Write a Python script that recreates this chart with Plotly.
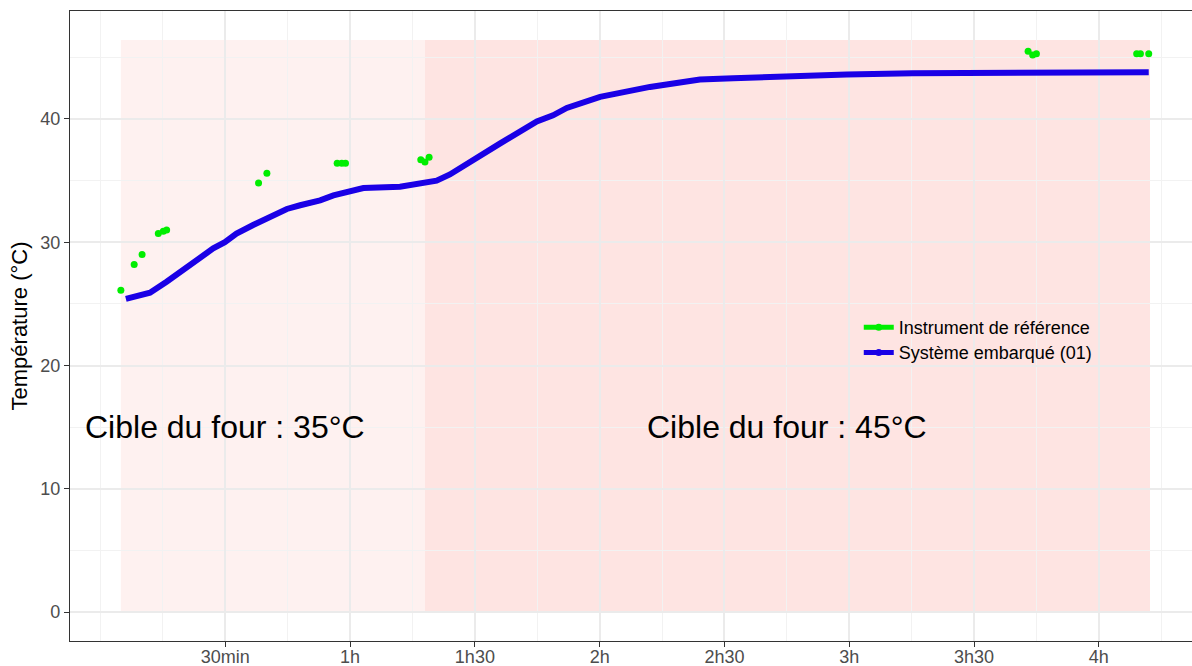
import plotly.graph_objects as go

# Elapsed time in minutes, temperature in °C
ref_time = [4.9, 8.1, 10.0, 13.9, 15.1, 15.9, 38.0, 40.0, 56.9, 58.0, 58.9,
            77.0, 78.0, 79.0, 223.0, 224.1, 225.0, 249.1, 250.0, 252.0]
ref_temp = [26.1, 28.2, 29.0, 30.7, 30.9, 31.0, 34.8, 35.6, 36.4, 36.4, 36.4,
            36.7, 36.5, 36.9, 45.5, 45.2, 45.3, 45.3, 45.3, 45.3]

sys_time = [6.1, 11.9, 15.9, 20.7, 27.1, 29.9, 32.7, 36.7, 41.5, 44.8, 48.0,
            52.8, 56.0, 60.0, 63.2, 72.0, 76.8, 80.8, 84.0, 89.6, 96.0, 104.9,
            108.8, 112.1, 120.1, 132.1, 144.1, 152.1, 160.1, 168.1, 179.4,
            195.3, 211.4, 227.5, 243.4, 252.0]
sys_temp = [25.4, 25.9, 26.8, 28.0, 29.5, 30.0, 30.7, 31.4, 32.1, 32.7, 33.0,
            33.4, 33.8, 34.2, 34.4, 34.5, 34.8, 35.0, 35.5, 36.7, 38.0, 39.8,
            40.3, 40.9, 41.8, 42.6, 43.2, 43.3, 43.4, 43.5, 43.6,
            43.7, 43.7, 43.8, 43.8, 43.8]

# Oven set-point phases: start, end (minutes), label
phase_start = [4.9, 78.0]
phase_end = [78.0, 252.3]
phase_label = ["Cible du four : 35°C", "Cible du four : 45°C"]
phase_label_x = [30.0, 165.0]
phase_fill = ["rgba(248,118,109,0.10)", "rgba(248,118,109,0.20)"]
phase_top = 46.4

tick_vals = [30, 60, 90, 120, 150, 180, 210, 240]
tick_text = ["30min", "1h", "1h30", "2h", "2h30", "3h", "3h30", "4h"]

GREEN = "#00ee00"
BLUE = "#1a00e6"
FONT = "Liberation Sans, Arial, sans-serif"

fig = go.Figure()

fig.add_trace(go.Scatter(x=sys_time, y=sys_temp, mode="lines",
                         line=dict(color=BLUE, width=6),
                         showlegend=False, hoverinfo="x+y"))
fig.add_trace(go.Scatter(x=ref_time, y=ref_temp, mode="markers",
                         marker=dict(color=GREEN, size=7),
                         showlegend=False, hoverinfo="x+y"))

# Legend entries (line + point key), one legend box per row
fig.add_trace(go.Scatter(x=[None], y=[None], mode="lines+markers",
                         name="Instrument de référence", legend="legend",
                         line=dict(color=GREEN, width=5),
                         marker=dict(color=GREEN, size=7)))
fig.add_trace(go.Scatter(x=[None], y=[None], mode="lines+markers",
                         name="Système embarqué (01)", legend="legend2",
                         line=dict(color=BLUE, width=5),
                         marker=dict(color=BLUE, size=7)))

for x0, x1, fc in zip(phase_start, phase_end, phase_fill):
    fig.add_shape(type="rect", x0=x0, x1=x1, y0=0, y1=phase_top,
                  xref="x", yref="y", fillcolor=fc, line=dict(width=0),
                  layer="below")

for lx, lab in zip(phase_label_x, phase_label):
    fig.add_annotation(x=lx, y=15, xref="x", yref="y", text=lab,
                       showarrow=False, xanchor="center", yanchor="middle",
                       font=dict(family=FONT, size=32, color="black"))

axis_font = dict(family=FONT, size=18, color="#4d4d4d")

fig.update_xaxes(range=[-7.33, 262.4], tickmode="array", tickvals=tick_vals,
                 ticktext=tick_text, tickfont=axis_font, automargin=False,
                 ticks="outside", ticklen=5, tickwidth=1.2,
                 tickcolor="#333333", ticklabelstandoff=-6,
                 showline=True, linecolor="#333333", linewidth=1.3,
                 mirror=True, showgrid=True, gridcolor="#ebebeb",
                 gridwidth=1.5, zeroline=False,
                 minor=dict(tickmode="linear", tick0=0, dtick=15,
                            showgrid=True, gridcolor="#f2f2f2",
                            gridwidth=0.8, ticklen=0))
fig.update_yaxes(range=[-2.35, 48.76], tickmode="array",
                 tickvals=[0, 10, 20, 30, 40], tickfont=axis_font,
                 automargin=False,
                 ticks="outside", ticklen=5, tickwidth=1.2,
                 tickcolor="#333333",
                 showline=True, linecolor="#333333", linewidth=1.3,
                 showgrid=True, gridcolor="#ebebeb", gridwidth=1.5,
                 zeroline=False,
                 title=dict(text="Température (°C)", standoff=6,
                            font=dict(family=FONT, size=22, color="black")),
                 minor=dict(tickmode="linear", tick0=5, dtick=10,
                            showgrid=True, gridcolor="#f2f2f2",
                            gridwidth=0.8, ticklen=0))

legend_style = dict(xanchor="left", yanchor="top", bgcolor="rgba(0,0,0,0)",
                    font=dict(family=FONT, size=18, color="black"),
                    itemwidth=30)

fig.update_layout(
    width=1192, height=666,
    margin=dict(l=70, r=0, t=11, b=25),
    paper_bgcolor="white", plot_bgcolor="white",
    font=dict(family=FONT, color="black"),
    legend=dict(x=0.703, y=0.527, **legend_style),
    legend2=dict(x=0.703, y=0.487, **legend_style),
)

fig.write_html("out.html")
